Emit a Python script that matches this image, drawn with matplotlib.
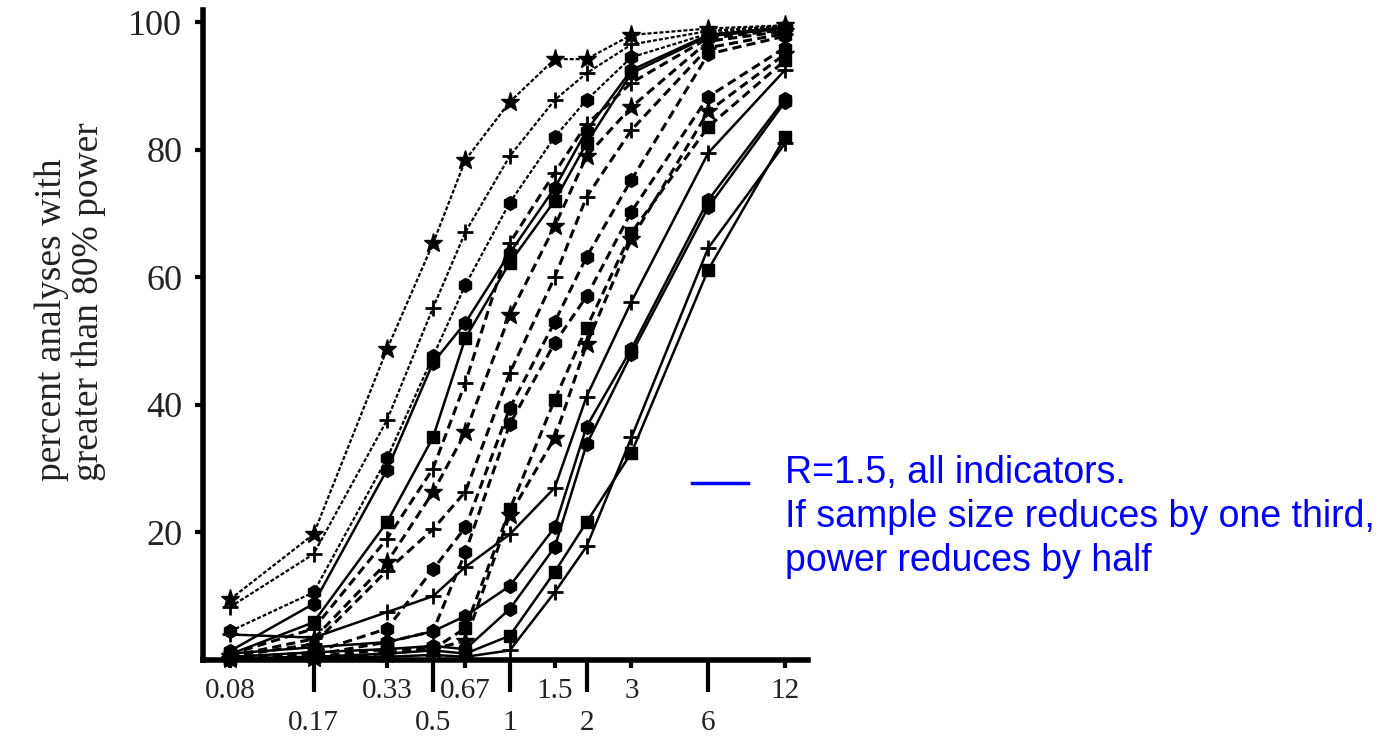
import matplotlib
matplotlib.use("Agg")
import matplotlib.pyplot as plt
from matplotlib.lines import Line2D

# x positions (odds-ratio style scale), shared by all curves
power_ratio = [0.08, 0.17, 0.33, 0.5, 0.67, 1, 1.5, 2, 3, 6, 12]

top_ticks = [0.08, 0.33, 0.67, 1.5, 3, 12]
top_labels = ["0.08", "0.33", "0.67", "1.5", "3", "12"]
low_ticks = [0.17, 0.5, 1, 2, 6]
low_labels = ["0.17", "0.5", "1", "2", "6"]
y_ticks = [20, 40, 60, 80, 100]

# percent of analyses with > 80% power
c1 = [9.5, 19.7, 48.7, 65.3, 78.4, 87.5, 94.2, 94.2, 98.0, 99.0, 99.5]
c2 = [8.3, 16.6, 37.6, 55.2, 67.1, 79.0, 87.8, 92.0, 96.5, 98.6, 99.4]
c3 = [4.5, 10.6, 31.6, 47.6, 58.8, 71.7, 82.0, 87.8, 94.5, 98.2, 99.3]
c4 = [1.4, 8.8, 29.8, 46.6, 52.9, 63.8, 74.0, 83.0, 92.5, 98.0, 99.2]
c5 = [0.9, 5.9, 21.6, 34.9, 50.5, 62.3, 72.0, 81.0, 92.0, 97.8, 99.0]
c6 = [0.9, 4.9, 19.0, 30.0, 43.5, 65.4, 76.4, 84.0, 90.5, 97.5, 98.8]
c7 = [0.6, 3.3, 15.3, 26.3, 35.7, 54.1, 68.0, 79.0, 86.7, 97.0, 98.6]
c8 = [0.5, 2.5, 14.0, 20.5, 26.4, 45.0, 60.0, 72.6, 83.1, 96.0, 98.2]
c9 = [0.3, 1.2, 4.9, 14.2, 20.8, 39.5, 53.0, 63.2, 75.3, 95.0, 97.8]
c10 = [0.3, 0.8, 2.8, 4.5, 16.9, 37.0, 49.7, 57.0, 70.3, 88.3, 96.0]
c11 = [0.2, 0.5, 1.7, 1.7, 5.0, 23.6, 40.8, 52.1, 67.0, 83.6, 94.0]
c12 = [0.1, 0.3, 1.0, 1.7, 3.0, 22.8, 34.8, 49.5, 66.0, 86.0, 95.0]
r1 = [4.0, 3.5, 7.5, 10.0, 14.6, 19.7, 27.0, 41.3, 56.2, 79.5, 92.5]
r2 = [1.0, 2.0, 2.8, 4.5, 6.9, 11.6, 20.8, 36.6, 48.8, 72.1, 88.0]
r3 = [0.5, 1.2, 1.7, 2.2, 1.7, 8.0, 17.7, 33.8, 48.0, 71.0, 87.5]
r4 = [0.3, 0.5, 1.0, 1.5, 1.0, 3.8, 13.8, 21.6, 32.5, 61.2, 82.0]
r5 = [0.2, 0.3, 0.5, 0.8, 0.5, 1.5, 10.6, 17.8, 34.9, 64.6, 81.0]

fine = dict(lw=1.6, dashes=(1.8, 0.9))
dash = dict(lw=2.2, dashes=(3.0, 1.7))
solid = dict(lw=1.8)

curves = [
	(c1, "*", fine), (c2, "+", fine), (c3, "h", fine),
	(c4, "h", solid), (c5, "s", solid),
	(c6, "+", dash), (c7, "*", dash), (c8, "+", dash), (c9, "h", dash),
	(c10, "h", dash), (c11, "s", dash), (c12, "*", dash),
	(r1, "+", solid), (r2, "h", solid), (r3, "h", solid), (r4, "s", solid), (r5, "+", solid),
]
msize = {"*": 14, "+": 12, "h": 10, "s": 8}

fig = plt.figure(figsize=(13.82, 7.37), dpi=100)
ax = fig.add_axes([0.1469, 0.1045, 0.4378, 0.8819])

for vals, mk, style in curves:
	ax.plot(power_ratio, vals, color="black", marker=mk, markersize=msize[mk],
		markeredgewidth=2 if mk == "+" else 1, clip_on=False, **style)

ax.set_xscale("log")
ax.set_xlim(0.0627, 14.77)
ax.set_ylim(0, 101.9)

for side in ["top", "right"]:
	ax.spines[side].set_visible(False)
ax.spines["left"].set_linewidth(4)
ax.spines["bottom"].set_linewidth(4)

serif = "Liberation Serif"
ax.set_xticks(top_ticks, labels=top_labels)
ax.set_xticks(low_ticks, labels=low_labels, minor=True)
ax.tick_params(axis="x", which="major", length=6, width=3, pad=7, labelsize=21)
ax.tick_params(axis="x", which="minor", length=23, width=3, pad=13, labelsize=21)
ax.set_yticks(y_ticks, labels=[str(v) for v in y_ticks])
ax.tick_params(axis="y", length=6, width=3, pad=9, labelsize=26)
for lab in ax.get_xticklabels(which="both") + ax.get_yticklabels():
	lab.set_fontfamily(serif)
	lab.set_color("#222222")

fig.text(70 / 1382, 1 - 302 / 737, "percent analyses with\ngreater than 80% power", rotation=90,
	ha="center", va="center", multialignment="left", fontsize=27,
	family=serif, color="#222222", linespacing=1.1)

# blue annotation
fig.add_artist(Line2D([692 / 1382, 748 / 1382], [1 - 483 / 737, 1 - 483 / 737],
	color="blue", lw=2.5, transform=fig.transFigure))
note = ["R=1.5, all indicators.", "If sample size reduces by one third,", "power reduces by half"]
for i, line in enumerate(note):
	fig.text(785 / 1382, 1 - (483 + 44 * i) / 737, line, ha="left", va="baseline",
		fontsize=27, family="Liberation Sans", color="blue")

fig.savefig("out.png", dpi=100)
